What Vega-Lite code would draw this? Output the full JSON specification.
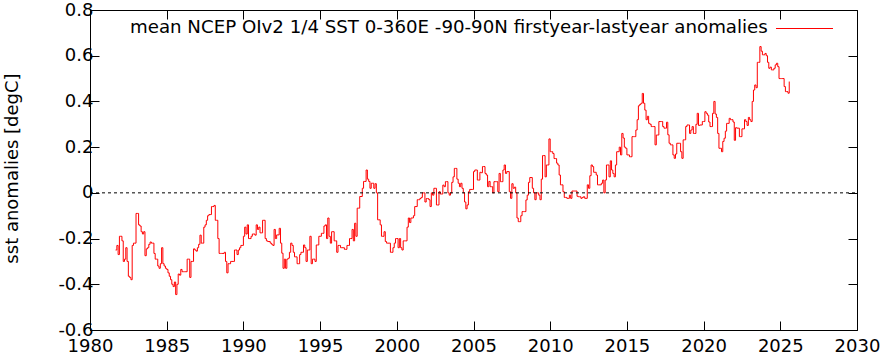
{
  "$schema": "https://vega.github.io/schema/vega-lite/v6.json",
  "width": 767,
  "height": 320,
  "autosize": {"type": "none"},
  "padding": {"left": 90, "top": 10, "right": 25, "bottom": 28},
  "background": "white",
  "config": {
    "view": {"stroke": "black", "strokeWidth": 1},
    "axis": {
      "domain": false,
      "grid": false,
      "tickColor": "black",
      "tickWidth": 1,
      "tickSize": -9,
      "labelColor": "black",
      "labelFont": "DejaVu Sans",
      "labelFontSize": 18,
      "titleFont": "DejaVu Sans",
      "titleFontSize": 18,
      "titleFontWeight": "normal",
      "titleColor": "black"
    }
  },
  "datasets": {
    "sst": [
      {"t":1981.667,"v":-0.25},{"t":1981.75,"v":-0.23},{"t":1981.833,"v":-0.27},{"t":1981.917,"v":-0.19},
      {"t":1982.0,"v":-0.19},{"t":1982.083,"v":-0.21},{"t":1982.167,"v":-0.30},{"t":1982.25,"v":-0.29},{"t":1982.333,"v":-0.24},{"t":1982.417,"v":-0.30},{"t":1982.5,"v":-0.365},{"t":1982.583,"v":-0.37},{"t":1982.667,"v":-0.38},{"t":1982.75,"v":-0.23},{"t":1982.833,"v":-0.22},{"t":1982.917,"v":-0.22},
      {"t":1983.0,"v":-0.09},{"t":1983.083,"v":-0.09},{"t":1983.167,"v":-0.14},{"t":1983.25,"v":-0.145},{"t":1983.333,"v":-0.17},{"t":1983.417,"v":-0.18},{"t":1983.5,"v":-0.17},{"t":1983.583,"v":-0.275},{"t":1983.667,"v":-0.245},{"t":1983.75,"v":-0.24},{"t":1983.833,"v":-0.225},{"t":1983.917,"v":-0.215},
      {"t":1984.0,"v":-0.22},{"t":1984.083,"v":-0.22},{"t":1984.167,"v":-0.265},{"t":1984.25,"v":-0.29},{"t":1984.333,"v":-0.29},{"t":1984.417,"v":-0.32},{"t":1984.5,"v":-0.33},{"t":1984.583,"v":-0.31},{"t":1984.667,"v":-0.24},{"t":1984.75,"v":-0.31},{"t":1984.833,"v":-0.32},{"t":1984.917,"v":-0.33},
      {"t":1985.0,"v":-0.335},{"t":1985.083,"v":-0.35},{"t":1985.167,"v":-0.365},{"t":1985.25,"v":-0.38},{"t":1985.333,"v":-0.40},{"t":1985.417,"v":-0.41},{"t":1985.5,"v":-0.39},{"t":1985.583,"v":-0.445},{"t":1985.667,"v":-0.40},{"t":1985.75,"v":-0.355},{"t":1985.833,"v":-0.36},{"t":1985.917,"v":-0.335},
      {"t":1986.0,"v":-0.345},{"t":1986.083,"v":-0.345},{"t":1986.167,"v":-0.345},{"t":1986.25,"v":-0.345},{"t":1986.333,"v":-0.29},{"t":1986.417,"v":-0.29},{"t":1986.5,"v":-0.37},{"t":1986.583,"v":-0.30},{"t":1986.667,"v":-0.30},{"t":1986.75,"v":-0.245},{"t":1986.833,"v":-0.25},{"t":1986.917,"v":-0.255},
      {"t":1987.0,"v":-0.24},{"t":1987.083,"v":-0.225},{"t":1987.167,"v":-0.185},{"t":1987.25,"v":-0.22},{"t":1987.333,"v":-0.22},{"t":1987.417,"v":-0.15},{"t":1987.5,"v":-0.14},{"t":1987.583,"v":-0.12},{"t":1987.667,"v":-0.10},{"t":1987.75,"v":-0.095},{"t":1987.833,"v":-0.095},{"t":1987.917,"v":-0.06},
      {"t":1988.0,"v":-0.06},{"t":1988.083,"v":-0.055},{"t":1988.167,"v":-0.12},{"t":1988.25,"v":-0.12},{"t":1988.333,"v":-0.20},{"t":1988.417,"v":-0.265},{"t":1988.5,"v":-0.265},{"t":1988.583,"v":-0.265},{"t":1988.667,"v":-0.265},{"t":1988.75,"v":-0.26},{"t":1988.833,"v":-0.30},{"t":1988.917,"v":-0.35},
      {"t":1989.0,"v":-0.31},{"t":1989.083,"v":-0.31},{"t":1989.167,"v":-0.30},{"t":1989.25,"v":-0.30},{"t":1989.333,"v":-0.30},{"t":1989.417,"v":-0.25},{"t":1989.5,"v":-0.25},{"t":1989.583,"v":-0.27},{"t":1989.667,"v":-0.25},{"t":1989.75,"v":-0.24},{"t":1989.833,"v":-0.23},{"t":1989.917,"v":-0.23},
      {"t":1990.0,"v":-0.19},{"t":1990.083,"v":-0.15},{"t":1990.167,"v":-0.18},{"t":1990.25,"v":-0.14},{"t":1990.333,"v":-0.20},{"t":1990.417,"v":-0.20},{"t":1990.5,"v":-0.19},{"t":1990.583,"v":-0.18},{"t":1990.667,"v":-0.18},{"t":1990.75,"v":-0.185},{"t":1990.833,"v":-0.14},{"t":1990.917,"v":-0.16},
      {"t":1991.0,"v":-0.15},{"t":1991.083,"v":-0.175},{"t":1991.167,"v":-0.175},{"t":1991.25,"v":-0.12},{"t":1991.333,"v":-0.12},{"t":1991.417,"v":-0.20},{"t":1991.5,"v":-0.21},{"t":1991.583,"v":-0.213},{"t":1991.667,"v":-0.213},{"t":1991.75,"v":-0.22},{"t":1991.833,"v":-0.225},{"t":1991.917,"v":-0.23},
      {"t":1992.0,"v":-0.16},{"t":1992.083,"v":-0.20},{"t":1992.167,"v":-0.184},{"t":1992.25,"v":-0.184},{"t":1992.333,"v":-0.155},{"t":1992.417,"v":-0.22},{"t":1992.5,"v":-0.264},{"t":1992.583,"v":-0.33},{"t":1992.667,"v":-0.29},{"t":1992.75,"v":-0.33},{"t":1992.833,"v":-0.29},{"t":1992.917,"v":-0.286},
      {"t":1993.0,"v":-0.26},{"t":1993.083,"v":-0.22},{"t":1993.167,"v":-0.23},{"t":1993.25,"v":-0.26},{"t":1993.333,"v":-0.28},{"t":1993.417,"v":-0.28},{"t":1993.5,"v":-0.31},{"t":1993.583,"v":-0.31},{"t":1993.667,"v":-0.27},{"t":1993.75,"v":-0.26},{"t":1993.833,"v":-0.26},{"t":1993.917,"v":-0.228},
      {"t":1994.0,"v":-0.24},{"t":1994.083,"v":-0.30},{"t":1994.167,"v":-0.25},{"t":1994.25,"v":-0.25},{"t":1994.333,"v":-0.19},{"t":1994.417,"v":-0.31},{"t":1994.5,"v":-0.29},{"t":1994.583,"v":-0.29},{"t":1994.667,"v":-0.30},{"t":1994.75,"v":-0.228},{"t":1994.833,"v":-0.228},{"t":1994.917,"v":-0.19},
      {"t":1995.0,"v":-0.19},{"t":1995.083,"v":-0.177},{"t":1995.167,"v":-0.177},{"t":1995.25,"v":-0.145},{"t":1995.333,"v":-0.14},{"t":1995.417,"v":-0.20},{"t":1995.5,"v":-0.11},{"t":1995.583,"v":-0.19},{"t":1995.667,"v":-0.22},{"t":1995.75,"v":-0.17},{"t":1995.833,"v":-0.17},{"t":1995.917,"v":-0.21},
      {"t":1996.0,"v":-0.21},{"t":1996.083,"v":-0.26},{"t":1996.167,"v":-0.23},{"t":1996.25,"v":-0.23},{"t":1996.333,"v":-0.24},{"t":1996.417,"v":-0.24},{"t":1996.5,"v":-0.24},{"t":1996.583,"v":-0.247},{"t":1996.667,"v":-0.247},{"t":1996.75,"v":-0.23},{"t":1996.833,"v":-0.23},{"t":1996.917,"v":-0.20},
      {"t":1997.0,"v":-0.20},{"t":1997.083,"v":-0.16},{"t":1997.167,"v":-0.21},{"t":1997.25,"v":-0.133},{"t":1997.333,"v":-0.19},{"t":1997.417,"v":-0.067},{"t":1997.5,"v":-0.067},{"t":1997.583,"v":-0.016},{"t":1997.667,"v":-0.016},{"t":1997.75,"v":0.02},{"t":1997.833,"v":0.05},{"t":1997.917,"v":0.05},
      {"t":1998.0,"v":0.10},{"t":1998.083,"v":0.06},{"t":1998.167,"v":0.05},{"t":1998.25,"v":0.02},{"t":1998.333,"v":0.042},{"t":1998.417,"v":0.042},{"t":1998.5,"v":0.02},{"t":1998.583,"v":0.04},{"t":1998.667,"v":0.0},{"t":1998.75,"v":-0.118},{"t":1998.833,"v":-0.118},{"t":1998.917,"v":-0.14},
      {"t":1999.0,"v":-0.19},{"t":1999.083,"v":-0.19},{"t":1999.167,"v":-0.17},{"t":1999.25,"v":-0.213},{"t":1999.333,"v":-0.22},{"t":1999.417,"v":-0.22},{"t":1999.5,"v":-0.22},{"t":1999.583,"v":-0.26},{"t":1999.667,"v":-0.26},{"t":1999.75,"v":-0.24},{"t":1999.833,"v":-0.22},{"t":1999.917,"v":-0.20},
      {"t":2000.0,"v":-0.20},{"t":2000.083,"v":-0.24},{"t":2000.167,"v":-0.20},{"t":2000.25,"v":-0.24},{"t":2000.333,"v":-0.25},{"t":2000.417,"v":-0.21},{"t":2000.5,"v":-0.21},{"t":2000.583,"v":-0.21},{"t":2000.667,"v":-0.15},{"t":2000.75,"v":-0.11},{"t":2000.833,"v":-0.13},{"t":2000.917,"v":-0.11},
      {"t":2001.0,"v":-0.11},{"t":2001.083,"v":-0.10},{"t":2001.167,"v":-0.06},{"t":2001.25,"v":-0.06},{"t":2001.333,"v":-0.03},{"t":2001.417,"v":-0.03},{"t":2001.5,"v":-0.025},{"t":2001.583,"v":-0.02},{"t":2001.667,"v":0.0},{"t":2001.75,"v":0.0},{"t":2001.833,"v":-0.04},{"t":2001.917,"v":-0.025},
      {"t":2002.0,"v":-0.025},{"t":2002.083,"v":-0.03},{"t":2002.167,"v":-0.06},{"t":2002.25,"v":0.0},{"t":2002.333,"v":-0.01},{"t":2002.417,"v":0.02},{"t":2002.5,"v":0.02},{"t":2002.583,"v":-0.053},{"t":2002.667,"v":-0.053},{"t":2002.75,"v":0.005},{"t":2002.833,"v":-0.005},{"t":2002.917,"v":-0.005},
      {"t":2003.0,"v":0.034},{"t":2003.083,"v":0.027},{"t":2003.167,"v":0.049},{"t":2003.25,"v":0.049},{"t":2003.333,"v":0.0},{"t":2003.417,"v":-0.01},{"t":2003.5,"v":0.0},{"t":2003.583,"v":0.046},{"t":2003.667,"v":0.07},{"t":2003.75,"v":0.107},{"t":2003.833,"v":0.107},{"t":2003.917,"v":0.06},
      {"t":2004.0,"v":0.042},{"t":2004.083,"v":0.027},{"t":2004.167,"v":0.042},{"t":2004.25,"v":0.02},{"t":2004.333,"v":0.0},{"t":2004.417,"v":-0.04},{"t":2004.5,"v":-0.07},{"t":2004.583,"v":-0.053},{"t":2004.667,"v":0.005},{"t":2004.75,"v":0.015},{"t":2004.833,"v":0.015},{"t":2004.917,"v":0.015},
      {"t":2005.0,"v":0.093},{"t":2005.083,"v":0.10},{"t":2005.167,"v":0.10},{"t":2005.25,"v":0.056},{"t":2005.333,"v":0.056},{"t":2005.417,"v":0.09},{"t":2005.5,"v":0.088},{"t":2005.583,"v":0.115},{"t":2005.667,"v":0.115},{"t":2005.75,"v":0.085},{"t":2005.833,"v":0.078},{"t":2005.917,"v":0.027},
      {"t":2006.0,"v":0.05},{"t":2006.083,"v":0.027},{"t":2006.167,"v":0.027},{"t":2006.25,"v":0.0},{"t":2006.333,"v":0.049},{"t":2006.417,"v":0.049},{"t":2006.5,"v":0.049},{"t":2006.583,"v":0.005},{"t":2006.667,"v":0.085},{"t":2006.75,"v":0.049},{"t":2006.833,"v":0.049},{"t":2006.917,"v":0.10},
      {"t":2007.0,"v":0.122},{"t":2007.083,"v":0.085},{"t":2007.167,"v":0.093},{"t":2007.25,"v":0.093},{"t":2007.333,"v":0.005},{"t":2007.417,"v":-0.024},{"t":2007.5,"v":0.04},{"t":2007.583,"v":0.02},{"t":2007.667,"v":0.025},{"t":2007.75,"v":0.0},{"t":2007.833,"v":-0.11},{"t":2007.917,"v":-0.126},
      {"t":2008.0,"v":-0.126},{"t":2008.083,"v":-0.10},{"t":2008.167,"v":-0.082},{"t":2008.25,"v":-0.082},{"t":2008.333,"v":-0.082},{"t":2008.417,"v":-0.031},{"t":2008.5,"v":-0.01},{"t":2008.583,"v":0.046},{"t":2008.667,"v":0.067},{"t":2008.75,"v":0.067},{"t":2008.833,"v":0.02},{"t":2008.917,"v":0.0},
      {"t":2009.0,"v":-0.03},{"t":2009.083,"v":0.0},{"t":2009.167,"v":0.0},{"t":2009.25,"v":-0.01},{"t":2009.333,"v":-0.03},{"t":2009.417,"v":0.06},{"t":2009.5,"v":0.163},{"t":2009.583,"v":0.163},{"t":2009.667,"v":0.07},{"t":2009.75,"v":0.122},{"t":2009.833,"v":0.122},{"t":2009.917,"v":0.236},
      {"t":2010.0,"v":0.18},{"t":2010.083,"v":0.18},{"t":2010.167,"v":0.172},{"t":2010.25,"v":0.15},{"t":2010.333,"v":0.15},{"t":2010.417,"v":0.13},{"t":2010.5,"v":0.122},{"t":2010.583,"v":0.078},{"t":2010.667,"v":0.035},{"t":2010.75,"v":0.035},{"t":2010.833,"v":0.005},{"t":2010.917,"v":-0.02},
      {"t":2011.0,"v":-0.02},{"t":2011.083,"v":-0.024},{"t":2011.167,"v":-0.024},{"t":2011.25,"v":-0.01},{"t":2011.333,"v":-0.024},{"t":2011.417,"v":0.008},{"t":2011.5,"v":0.008},{"t":2011.583,"v":0.008},{"t":2011.667,"v":0.008},{"t":2011.75,"v":-0.015},{"t":2011.833,"v":-0.017},{"t":2011.917,"v":-0.017},
      {"t":2012.0,"v":-0.024},{"t":2012.083,"v":-0.02},{"t":2012.167,"v":-0.017},{"t":2012.25,"v":-0.024},{"t":2012.333,"v":-0.024},{"t":2012.417,"v":0.035},{"t":2012.5,"v":0.02},{"t":2012.583,"v":0.075},{"t":2012.667,"v":0.122},{"t":2012.75,"v":0.115},{"t":2012.833,"v":0.09},{"t":2012.917,"v":0.09},
      {"t":2013.0,"v":0.078},{"t":2013.083,"v":0.035},{"t":2013.167,"v":0.035},{"t":2013.25,"v":0.035},{"t":2013.333,"v":0.042},{"t":2013.417,"v":0.056},{"t":2013.5,"v":0.0},{"t":2013.583,"v":0.056},{"t":2013.667,"v":0.122},{"t":2013.75,"v":0.122},{"t":2013.833,"v":0.07},{"t":2013.917,"v":0.14},
      {"t":2014.0,"v":0.10},{"t":2014.083,"v":0.085},{"t":2014.167,"v":0.07},{"t":2014.25,"v":0.122},{"t":2014.333,"v":0.18},{"t":2014.417,"v":0.18},{"t":2014.5,"v":0.20},{"t":2014.583,"v":0.166},{"t":2014.667,"v":0.26},{"t":2014.75,"v":0.24},{"t":2014.833,"v":0.20},{"t":2014.917,"v":0.195},
      {"t":2015.0,"v":0.166},{"t":2015.083,"v":0.166},{"t":2015.167,"v":0.158},{"t":2015.25,"v":0.158},{"t":2015.333,"v":0.246},{"t":2015.417,"v":0.246},{"t":2015.5,"v":0.246},{"t":2015.583,"v":0.275},{"t":2015.667,"v":0.32},{"t":2015.75,"v":0.381},{"t":2015.833,"v":0.387},{"t":2015.917,"v":0.392},
      {"t":2016.0,"v":0.435},{"t":2016.083,"v":0.392},{"t":2016.167,"v":0.362},{"t":2016.25,"v":0.32},{"t":2016.333,"v":0.335},{"t":2016.417,"v":0.304},{"t":2016.5,"v":0.30},{"t":2016.583,"v":0.29},{"t":2016.667,"v":0.29},{"t":2016.75,"v":0.29},{"t":2016.833,"v":0.21},{"t":2016.917,"v":0.253},
      {"t":2017.0,"v":0.253},{"t":2017.083,"v":0.312},{"t":2017.167,"v":0.312},{"t":2017.25,"v":0.312},{"t":2017.333,"v":0.29},{"t":2017.417,"v":0.283},{"t":2017.5,"v":0.283},{"t":2017.583,"v":0.309},{"t":2017.667,"v":0.254},{"t":2017.75,"v":0.217},{"t":2017.833,"v":0.21},{"t":2017.917,"v":0.21},
      {"t":2018.0,"v":0.166},{"t":2018.083,"v":0.151},{"t":2018.167,"v":0.17},{"t":2018.25,"v":0.217},{"t":2018.333,"v":0.217},{"t":2018.417,"v":0.217},{"t":2018.5,"v":0.18},{"t":2018.583,"v":0.151},{"t":2018.667,"v":0.232},{"t":2018.75,"v":0.232},{"t":2018.833,"v":0.29},{"t":2018.917,"v":0.297},
      {"t":2019.0,"v":0.297},{"t":2019.083,"v":0.26},{"t":2019.167,"v":0.275},{"t":2019.25,"v":0.29},{"t":2019.333,"v":0.26},{"t":2019.417,"v":0.26},{"t":2019.5,"v":0.30},{"t":2019.583,"v":0.348},{"t":2019.667,"v":0.295},{"t":2019.75,"v":0.297},{"t":2019.833,"v":0.297},{"t":2019.917,"v":0.312},
      {"t":2020.0,"v":0.312},{"t":2020.083,"v":0.355},{"t":2020.167,"v":0.348},{"t":2020.25,"v":0.34},{"t":2020.333,"v":0.31},{"t":2020.417,"v":0.29},{"t":2020.5,"v":0.29},{"t":2020.583,"v":0.348},{"t":2020.667,"v":0.40},{"t":2020.75,"v":0.345},{"t":2020.833,"v":0.33},{"t":2020.917,"v":0.26},
      {"t":2021.0,"v":0.195},{"t":2021.083,"v":0.195},{"t":2021.167,"v":0.18},{"t":2021.25,"v":0.225},{"t":2021.333,"v":0.239},{"t":2021.417,"v":0.27},{"t":2021.5,"v":0.304},{"t":2021.583,"v":0.304},{"t":2021.667,"v":0.326},{"t":2021.75,"v":0.32},{"t":2021.833,"v":0.32},{"t":2021.917,"v":0.31},
      {"t":2022.0,"v":0.23},{"t":2022.083,"v":0.285},{"t":2022.167,"v":0.283},{"t":2022.25,"v":0.283},{"t":2022.333,"v":0.246},{"t":2022.417,"v":0.246},{"t":2022.5,"v":0.28},{"t":2022.583,"v":0.28},{"t":2022.667,"v":0.32},{"t":2022.75,"v":0.312},{"t":2022.833,"v":0.295},{"t":2022.917,"v":0.33},
      {"t":2023.0,"v":0.32},{"t":2023.083,"v":0.312},{"t":2023.167,"v":0.40},{"t":2023.25,"v":0.45},{"t":2023.333,"v":0.472},{"t":2023.417,"v":0.46},{"t":2023.5,"v":0.571},{"t":2023.583,"v":0.571},{"t":2023.667,"v":0.64},{"t":2023.75,"v":0.62},{"t":2023.833,"v":0.604},{"t":2023.917,"v":0.604},
      {"t":2024.0,"v":0.61},{"t":2024.083,"v":0.60},{"t":2024.167,"v":0.571},{"t":2024.25,"v":0.545},{"t":2024.333,"v":0.55},{"t":2024.417,"v":0.538},{"t":2024.5,"v":0.538},{"t":2024.583,"v":0.545},{"t":2024.667,"v":0.56},{"t":2024.75,"v":0.567},{"t":2024.833,"v":0.552},{"t":2024.917,"v":0.50},
      {"t":2025.0,"v":0.50},{"t":2025.083,"v":0.50},{"t":2025.167,"v":0.50},{"t":2025.25,"v":0.465},{"t":2025.333,"v":0.443},{"t":2025.417,"v":0.443},{"t":2025.5,"v":0.436},{"t":2025.583,"v":0.487}
    ],
    "zero": [{"z": 0}]
  },
  "layer": [
    {
      "data": {"name": "sst"},
      "mark": {"type": "line", "interpolate": "step-after", "strokeWidth": 1, "clip": true},
      "encoding": {
        "x": {
          "field": "t", "type": "quantitative",
          "scale": {"domain": [1980, 2030], "nice": false, "zero": false},
          "axis": {"orient": "bottom", "values": [1980,1985,1990,1995,2000,2005,2010,2015,2020,2025,2030], "format": "d", "labelPadding": 16, "title": null, "labelFlush": false}
        },
        "y": {
          "field": "v", "type": "quantitative",
          "scale": {"domain": [-0.6, 0.8], "nice": false, "zero": false},
          "axis": {
            "orient": "left",
            "values": [-0.6,-0.4,-0.2,0,0.2,0.4,0.6,0.8],
            "labelExpr": "abs(datum.value) < 1e-9 ? '0' : (datum.value < 0 ? '-' + format(-datum.value, '.1f') : format(datum.value, '.1f'))",
            "labelPadding": 6,
            "labelFlush": false,
            "title": "sst anomalies [degC]",
            "titleX": -78,
            "titleY": 158,
            "titleAngle": 270,
            "titleAlign": "center",
            "titleBaseline": "middle"
          }
        },
        "color": {
          "datum": "mean NCEP OIv2 1/4 SST 0-360E -90-90N firstyear-lastyear anomalies",
          "type": "nominal",
          "scale": {"range": ["#ff0000"]},
          "legend": {
            "orient": "none",
            "legendX": 40,
            "legendY": 12,
            "padding": 0,
            "title": "mean NCEP OIv2 1/4 SST 0-360E -90-90N firstyear-lastyear anomalies",
            "titleOrient": "left",
            "titleLimit": 2000,
            "titleFont": "DejaVu Sans",
            "titleFontSize": 18.2,
            "titleFontWeight": "normal",
            "titleColor": "black",
            "titleBaseline": "middle",
            "titlePadding": 30,
            "labelExpr": "''",
            "symbolType": "M-5,0H5",
            "symbolSize": 130,
            "symbolStrokeWidth": 1
          }
        }
      }
    },
    {
      "data": {"name": "zero"},
      "mark": {"type": "rule", "color": "black", "strokeWidth": 1, "strokeDash": [3, 3]},
      "encoding": {
        "y": {
          "field": "z", "type": "quantitative",
          "axis": {"orient": "right", "values": [-0.6,-0.4,-0.2,0,0.2,0.4,0.6,0.8], "labels": false, "title": null}
        },
        "x": {
          "datum": 1980, "type": "quantitative",
          "axis": {"orient": "top", "values": [1980,1985,1990,1995,2000,2005,2010,2015,2020,2025,2030], "labels": false, "title": null}
        },
        "x2": {"datum": 2030}
      }
    }
  ],
  "resolve": {"axis": {"x": "independent", "y": "independent"}}
}
